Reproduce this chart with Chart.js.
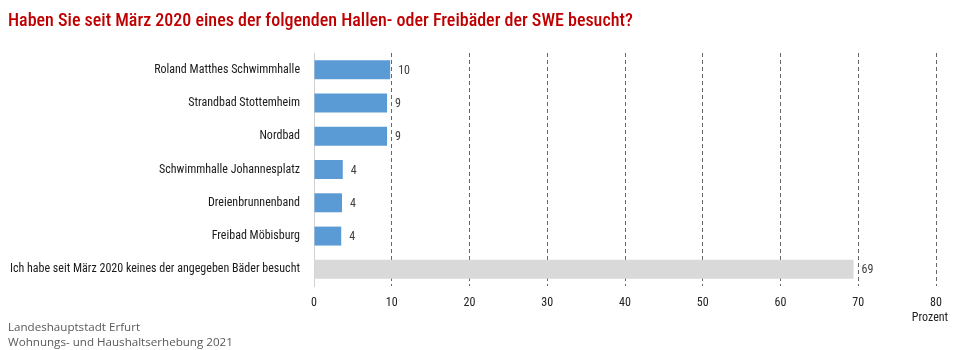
<!DOCTYPE html>
<html>
<head>
<meta charset="utf-8">
<script src="https://cdn.jsdelivr.net/npm/chart.js@4"></script>
<style>
  body { margin: 0; background: #fff; }
  #wrap { position: relative; width: 960px; height: 350px; }
  #title {
    position: absolute; left: 8px; top: 9px;
    font: 500 18px "Roboto Condensed", sans-serif;
    color: #c00000; white-space: nowrap;
  }
  #source {
    position: absolute; left: 8px; top: 319px;
    font: 11.6px "Open Sans", sans-serif; line-height: 15px;
    color: #595959; white-space: nowrap;
  }
</style>
</head>
<body>
<div id="wrap">
  <canvas id="chart" width="960" height="350"></canvas>
  <div id="title">Haben Sie seit März 2020 eines der folgenden Hallen- oder Freibäder der SWE besucht?</div>
  <div id="source">Landeshauptstadt Erfurt<br>Wohnungs- und Haushaltserhebung 2021</div>
</div>
<script>
// Data
const categories = [
  'Roland Matthes Schwimmhalle',
  'Strandbad Stottemheim',
  'Nordbad',
  'Schwimmhalle Johannesplatz',
  'Dreienbrunnenband',
  'Freibad Möbisburg',
  'Ich habe seit März 2020 keines der angegeben Bäder besucht'
];
const values = [9.8, 9.4, 9.4, 3.7, 3.6, 3.5, 69.4];
const valueLabels = ['10', '9', '9', '4', '4', '4', '69'];
const axisMax = 80;
const axisStep = 10;
const axisUnit = 'Prozent';

const FONT = '"Roboto Condensed", sans-serif';
const barColors = values.map((v, i) => i === values.length - 1 ? '#d9d9d9' : '#5b9bd5');

// value labels right of the bars + unit under the last tick
const labelPlugin = {
  id: 'labels',
  afterDatasetsDraw(chart) {
    const ctx = chart.ctx;
    const meta = chart.getDatasetMeta(0);
    ctx.save();
    ctx.font = '12px ' + FONT;
    ctx.fillStyle = '#404040';
    ctx.textAlign = 'left';
    ctx.textBaseline = 'middle';
    meta.data.forEach((bar, i) => {
      ctx.fillText(valueLabels[i], bar.x + 8, bar.y + 1);
    });
    const xs = chart.scales.x;
    ctx.fillStyle = '#222';
    ctx.textAlign = 'center';
    ctx.fillText(axisUnit, xs.getPixelForValue(axisMax) - 6, 318);
    ctx.restore();
  }
};

const ctx1 = document.getElementById('chart').getContext('2d');
const chart = new Chart(ctx1, {
  type: 'bar',
  data: {
    labels: categories,
    datasets: [{
      data: values,
      backgroundColor: barColors,
      barPercentage: 0.57,
      categoryPercentage: 1
    }]
  },
  options: {
    indexAxis: 'y',
    responsive: false,
    animation: false,
    layout: { padding: { top: 53, right: 24, left: 0, bottom: 0 } },
    plugins: {
      legend: { display: false },
      tooltip: { enabled: false }
    },
    scales: {
      x: {
        min: 0,
        max: axisMax,
        ticks: {
          stepSize: axisStep,
          padding: 10,
          color: '#222',
          font: { family: FONT, size: 12 }
        },
        grid: {
          drawTicks: false,
          color: c => c.tick && c.tick.value === 0 ? 'rgba(0,0,0,0)' : '#666'
        },
        border: { display: false, dash: [4, 3] },
        afterFit: s => { s.height = 64; }
      },
      y: {
        ticks: {
          padding: 14,
          color: '#1a1a1a',
          font: { family: FONT, size: 12 }
        },
        grid: { display: false, drawTicks: false },
        border: { display: true, color: '#d0d0d0', width: 1 },
        afterFit: s => { s.width = 314; }
      }
    }
  },
  plugins: [labelPlugin]
});
</script>
</body>
</html>
